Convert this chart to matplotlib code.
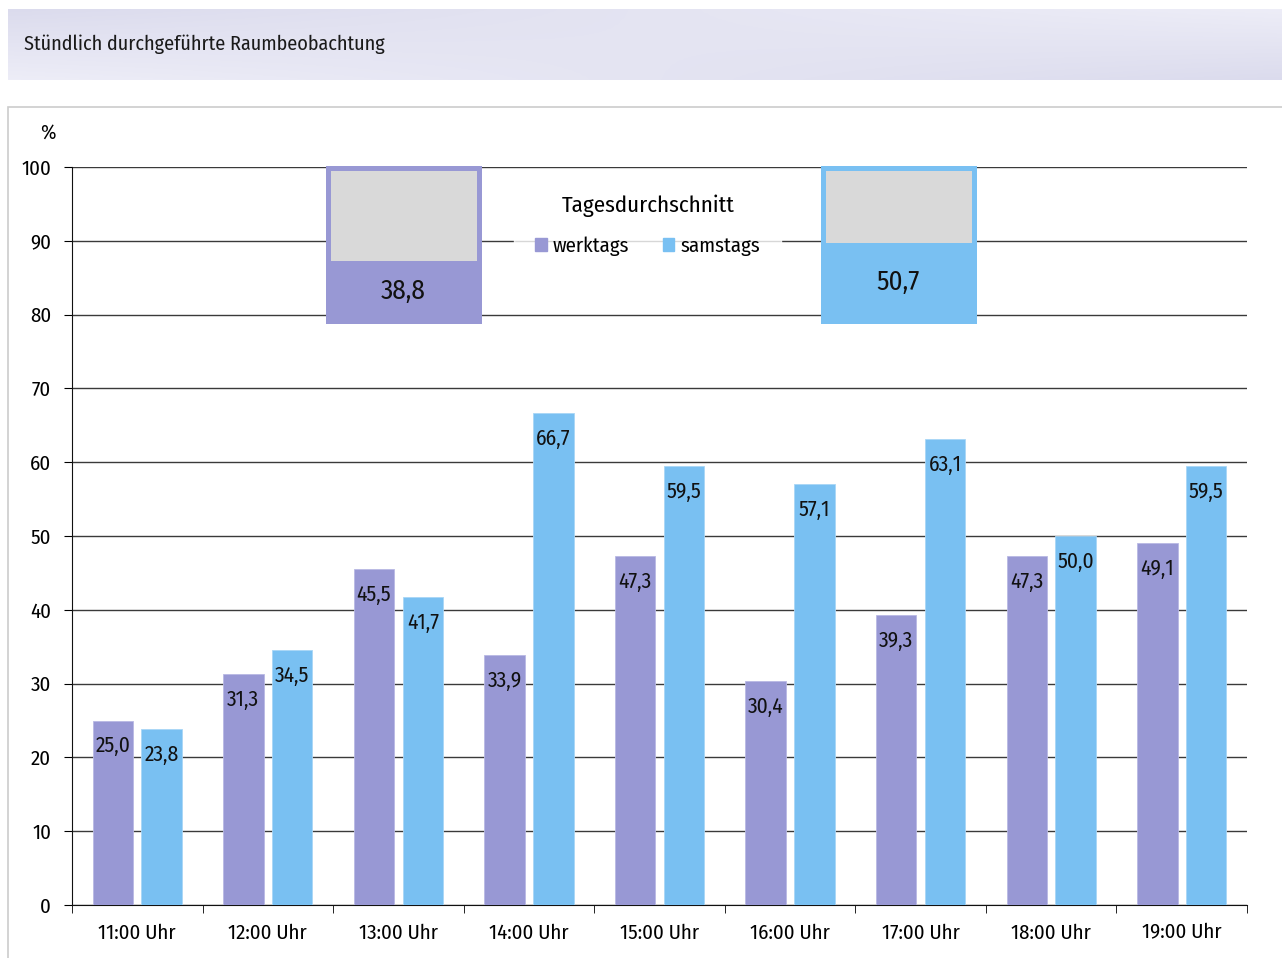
import matplotlib.pyplot as plt
import numpy as np
from matplotlib.patches import Patch, Rectangle

plt.rcParams["font.family"] = ["Fira Sans Condensed", "DejaVu Sans"]

hours = ["11:00 Uhr", "12:00 Uhr", "13:00 Uhr", "14:00 Uhr", "15:00 Uhr",
         "16:00 Uhr", "17:00 Uhr", "18:00 Uhr", "19:00 Uhr"]
werktags = [25.0, 31.3, 45.5, 33.9, 47.3, 30.4, 39.3, 47.3, 49.1]
samstags = [23.8, 34.5, 41.7, 66.7, 59.5, 57.1, 63.1, 50.0, 59.5]
avg_werktags = 38.8
avg_samstags = 50.7

c_werk = "#9898d4"
c_sams = "#79c0f2"
W, H = 1282, 958

fig = plt.figure(figsize=(W / 100, H / 100), dpi=100)

# header band with soft gradient
hx = fig.add_axes([8 / W, 1 - 80 / H, 1 - 8 / W, 71 / H])
gx, gy = np.meshgrid(np.linspace(0, 1, 200), np.linspace(0, 1, 50))
t = gx + gy - 2 * gx * gy
c1 = np.array([0.86, 0.86, 0.93])
c2 = np.array([0.93, 0.93, 0.97])
img = c1 + (c2 - c1) * t[..., None]
hx.imshow(img, aspect="auto", extent=(0, 1, 0, 1))
hx.axis("off")
fig.text(24 / W, 1 - 44 / H, "Stündlich durchgeführte Raumbeobachtung",
         fontsize=14.5, va="center", ha="left", color="#1a1a1a")

# outer frame
fig.patches.append(Rectangle((8 / W, -0.1), 1.0, 1 - 107 / H + 0.1,
                             transform=fig.transFigure, fill=False,
                             edgecolor="#cccccc", lw=1.2))

ax = fig.add_axes([72 / W, 53 / H, 1175 / W, 738 / H])
x = np.arange(len(hours))
bw = 0.31
off = 0.187
b1 = ax.bar(x - off, werktags, bw, color=c_werk, edgecolor="#b8b8e4", lw=0.6, zorder=3)
b2 = ax.bar(x + off, samstags, bw, color=c_sams, edgecolor="#a8d6f6", lw=0.6, zorder=3)

for bars, vals in ((b1, werktags), (b2, samstags)):
    for b, v in zip(bars, vals):
        ax.annotate(f"{v:.1f}".replace(".", ","),
                    (b.get_x() + b.get_width() / 2, v),
                    xytext=(0, -18.5), textcoords="offset points",
                    ha="center", va="center", fontsize=15.5, color="#111111", zorder=4)

ax.set_xlim(-0.5, len(hours) - 0.5)
ax.set_ylim(0, 100)
ax.set_yticks(np.arange(0, 101, 10))
ax.yaxis.grid(True, color="#3a3a3a", lw=1.0, zorder=0)
ax.set_axisbelow(True)
ax.set_xticks(x)
ax.set_xticklabels(hours)
ax.set_xticks(np.arange(-0.5, len(hours)), minor=True)
ax.tick_params(axis="x", which="major", length=0, labelsize=15, pad=13)
ax.tick_params(axis="x", which="minor", length=6, direction="out")
ax.tick_params(axis="y", length=6, direction="out", labelsize=15, pad=9)
for s in ("top", "right"):
    ax.spines[s].set_visible(False)
for s in ("left", "bottom"):
    ax.spines[s].set_color("#111111")
fig.text(48 / W, 1 - 133 / H, "%", fontsize=15, ha="center", va="center")

# legend
handles = [Patch(color=c_werk, label="werktags"), Patch(color=c_sams, label="samstags")]
leg = ax.legend(handles=handles, title="Tagesdurchschnitt", ncol=2, loc="center",
                bbox_to_anchor=(0.49, 0.921), frameon=True, fontsize=15,
                title_fontsize=16.5, handlelength=0.55, handleheight=0.55,
                handletextpad=0.3, columnspacing=1.6, borderpad=1.0, fancybox=False)
leg._legend_box.sep = 14
leg.get_frame().set_facecolor("white")
leg.get_frame().set_edgecolor("white")

# daily average gauges
for left, val, col in ((327.5, avg_werktags, c_werk), (822.5, avg_samstags, c_sams)):
    gax = fig.add_axes([left / W, 1 - 320.5 / H, 151 / W, 152.5 / H])
    gax.set_facecolor("#d9d9d9")
    gax.bar(0, val, width=1.0, color=col)
    gax.set_xlim(-0.5, 0.5)
    gax.set_ylim(0, 100)
    gax.set_xticks([])
    gax.set_yticks([])
    for s in gax.spines.values():
        s.set_color(col)
        s.set_linewidth(3.6)
    gax.text(0, val / 2, f"{val:.1f}".replace(".", ","), ha="center", va="center",
             fontsize=19.5, color="#111111")

fig.savefig("out.png", dpi=100)
